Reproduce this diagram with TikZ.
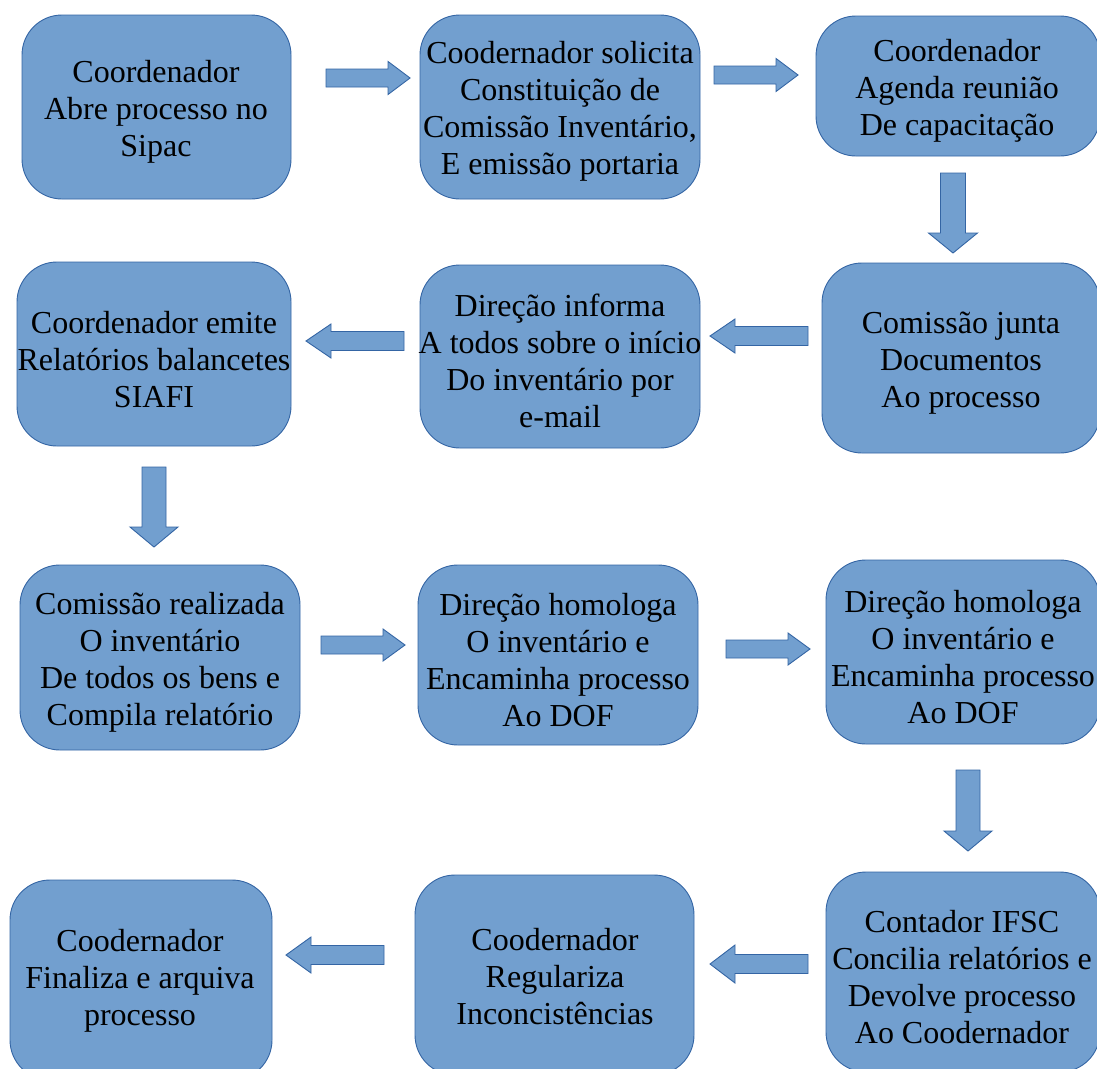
\documentclass[tikz,border=0pt]{standalone}
\usepackage{fontspec}
\setmainfont{Liberation Serif}
\definecolor{boxfill}{HTML}{729FCF}
\definecolor{boxline}{HTML}{3465A4}
\begin{document}
\begin{tikzpicture}[x=1pt,y=-1pt,
  box/.style={draw=boxline, line width=0.9pt, fill=boxfill, rounded corners=40pt, inner sep=0pt},
  txt/.style={align=center, inner sep=0pt, yshift=-3pt, font=\fontsize{32}{37}\selectfont},
  blk/.style={draw=boxline, line width=0.9pt, fill=boxfill, line join=miter},
  pics/blkarrow/.style n args={4}{code={
    \draw[blk] (0,-#3) -- (#1-#2,-#3) -- (#1-#2,-#4) -- (#1,0) -- (#1-#2,#4) -- (#1-#2,#3) -- (0,#3) -- cycle;
  }}]
\useasboundingbox (0,0) rectangle (1097,1068);
\clip (0,0) rectangle (1097,1068);
% boxes
\node[box, minimum width=269, minimum height=184] (b1) at (156.5,107) {};
\node[box, minimum width=280, minimum height=184] (b2) at (560,107) {};
\node[box, minimum width=284, minimum height=140] (b3) at (958,86) {};
\node[box, minimum width=278, minimum height=190] (b4) at (961,358) {};
\node[box, minimum width=280, minimum height=183] (b5) at (560,356.5) {};
\node[box, minimum width=274, minimum height=184] (b6) at (154,354) {};
\node[box, minimum width=280, minimum height=185] (b7) at (160,657.5) {};
\node[box, minimum width=280, minimum height=180] (b8) at (558,655) {};
\node[box, minimum width=274, minimum height=184] (b9) at (963,652) {};
\node[box, minimum width=274, minimum height=200] (b10) at (963,972) {};
\node[box, minimum width=279, minimum height=200] (b11) at (554.5,975) {};
\node[box, minimum width=262, minimum height=200] (b12) at (141,980) {};
% texts
\node[txt] (t1) at (156,109) {Coordenador\\Abre processo no\\Sipac};
\node[txt] (t2) at (560,108.5) {Coodernador solicita\\Constituição de\\Comissão Inventário,\\E emissão portaria};
\node[txt] (t3) at (957,88) {Coordenador\\Agenda reunião\\De capacitação};
\node[txt] (t4) at (961,360) {Comissão junta\\Documentos\\Ao processo};
\node[txt] (t5) at (560,357.5) {Direção informa\\A todos sobre o início\\Do inventário por\\e-mail};
\node[txt] (t6) at (154,357) {Coordenador emite\\Relatórios balancetes\\SIAFI};
\node[txt] (t7) at (160,659) {Comissão realizada\\O inventário\\De todos os bens e\\Compila relatório};
\node[txt] (t8) at (558,657) {Direção homologa\\O inventário e\\Encaminha processo\\Ao DOF};
\node[txt] (t9) at (963,654) {Direção homologa\\O inventário e\\Encaminha processo\\Ao DOF};
\node[txt] (t10) at (962,974) {Contador IFSC\\Concilia relatórios e\\Devolve processo\\Ao Coodernador};
\node[txt] (t11) at (555,974) {Coodernador\\Regulariza\\Inconcistências};
\node[txt] (t12) at (140,978) {Coodernador\\Finaliza e arquiva\\processo};
% block arrows
\pic at (326,78) {blkarrow={84}{22}{9}{16.5}};
\pic at (714,75) {blkarrow={84}{22}{9}{16.5}};
\pic[rotate=-90] at (953,173) {blkarrow={80}{20}{12.5}{24.5}};
\pic[rotate=180] at (808,336) {blkarrow={98}{25}{9.5}{17}};
\pic[rotate=180] at (404,341) {blkarrow={98}{25}{9.5}{17}};
\pic[rotate=-90] at (154,467) {blkarrow={80}{20}{12}{24}};
\pic at (321,645) {blkarrow={84}{22}{9}{16}};
\pic at (726,649) {blkarrow={84}{22}{9}{16}};
\pic[rotate=-90] at (968,770) {blkarrow={81}{20}{12}{24}};
\pic[rotate=180] at (808,964) {blkarrow={98}{25}{9.5}{19}};
\pic[rotate=180] at (384,955) {blkarrow={98}{25}{9.5}{18}};
\end{tikzpicture}
\end{document}
